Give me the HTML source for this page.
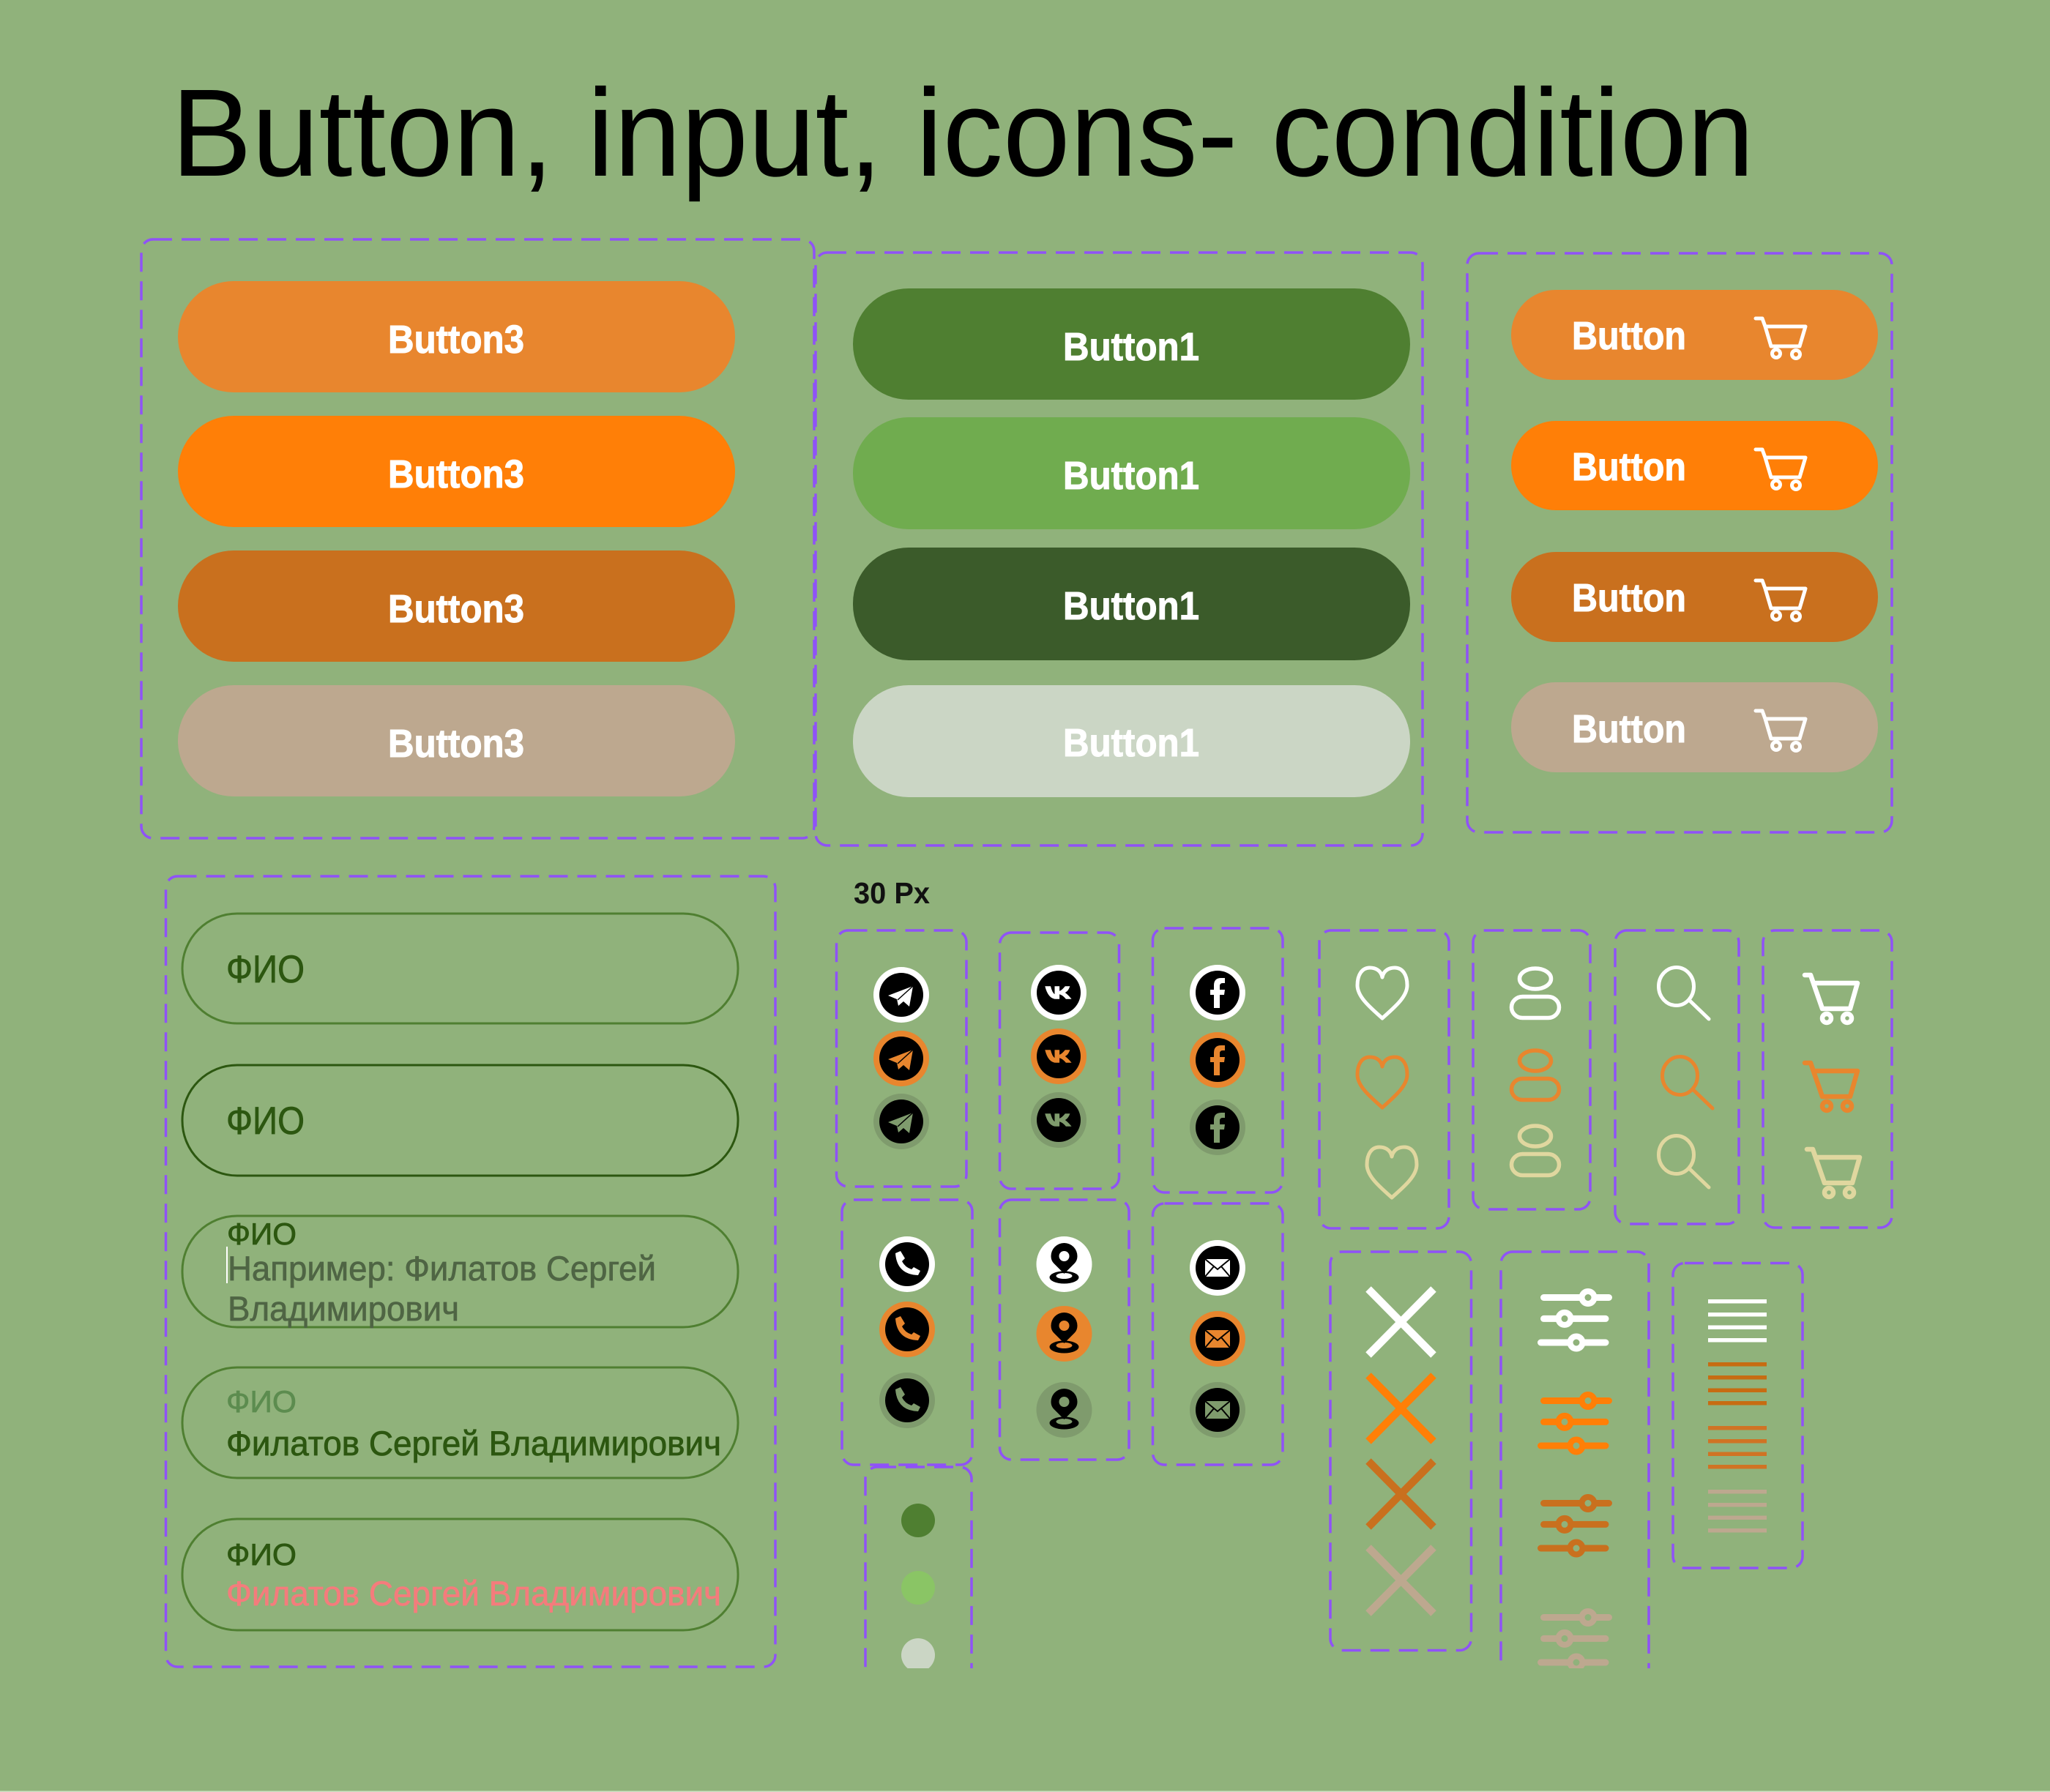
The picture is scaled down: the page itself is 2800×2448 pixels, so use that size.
<!DOCTYPE html>
<html><head><meta charset="utf-8"><style>
html,body{margin:0;padding:0;background:#90b27b}
svg{display:block}
text{font-family:"Liberation Sans",sans-serif}
.b{font-weight:700;font-size:54px;fill:#fff;stroke:#fff;stroke-width:1}
.box{fill:none;stroke:#8f52f7;stroke-width:3.5;stroke-dasharray:26 13}
.p{fill:none;stroke:#4f7f31;stroke-width:3}
.t{font-size:47px;fill:#2c5710;stroke:#2c5710;stroke-width:.8}
.u{font-size:47px;stroke-width:.7}
</style></head><body>
<svg width="2800" height="2448" viewBox="0 0 2800 2448" xmlns="http://www.w3.org/2000/svg">
<defs>
<clipPath id="c"><rect x="0" y="0" width="2800" height="2279"/></clipPath>
<g id="cart" fill="none" stroke="currentColor" stroke-width="5" stroke-linecap="round" stroke-linejoin="round">
<path d="M3,3H12L16,14L24,41H63L71,14H16"/><circle cx="31" cy="51" r="5.500"/><circle cx="58" cy="52" r="5.500"/></g>
<g id="bcart" fill="none" stroke="currentColor" stroke-width="6.500" stroke-linecap="round" stroke-linejoin="round">
<path d="M3,4H11L27,50H65L75,15H17"/><circle cx="33" cy="63" r="6"/><circle cx="61" cy="63" r="6"/></g>
<g id="tg"><circle r="38" fill="currentColor"/><circle r="30" fill="#000"/><path fill="currentColor" d="M16,-12L-18,1L-6,6L-4,15L3,9L11,16Z"/><path d="M16,-12L-5,7" stroke="#000" stroke-width="1.500"/></g>
<g id="vk"><circle r="38" fill="currentColor"/><circle r="30" fill="#000"/><path transform="scale(1.100)" fill="currentColor" d="M-17,-8L-10,-8Q-8,0-5,2L-5,-8L1,-8L1,-2Q4,-3 8,-8L14,-8Q12,-2 8,0Q12,3 16,8L9,8Q5,3 1,2L1,8L-3,8Q-13,8-17,-8Z"/></g>
<g id="fb"><circle r="38" fill="currentColor"/><circle r="30" fill="#000"/><path fill="currentColor" d="M3,21V3H9L10,-4H3V-9Q3,-13 7,-13H10V-20H5Q-5,-20-5,-10V-4H-10V3H-5V21Z"/></g>
<g id="ph"><circle r="38" fill="currentColor"/><circle r="30" fill="#000"/><path fill="currentColor" d="M-16,-15L-9,-18L-3,-8L-7,-4Q-3,4 6,7L9,4L18,9L15,15Q-14,14-16,-15Z"/></g>
<g id="ml"><circle r="38" fill="currentColor"/><circle r="30" fill="#000"/><rect x="-17" y="-12" width="34" height="24" fill="currentColor"/><path d="M-17,-12L0,2L17,-12M-17,12L-5,-2M17,12L5,-2" fill="none" stroke="#000" stroke-width="2"/></g>
<g id="pn"><circle r="38" fill="currentColor"/><ellipse cy="18" rx="20" ry="8.500" fill="#000"/><ellipse cy="16" rx="11" ry="4" fill="currentColor"/><path d="M0,13L-14,-1Q-18,-5-18,-11A18,18 0 0 1 18,-11Q18,-5 14,-1Z" fill="#000"/><circle cy="-11" r="7" fill="currentColor"/></g>
<path id="heart" fill="none" stroke="currentColor" stroke-width="5" stroke-linejoin="round" d="M35,14C33,4 25,1 18,1C7,1 1,11 1,25C1,42 22,58 35,70C48,58 69,42 69,25C69,11 63,1 52,1C45,1 37,4 35,14Z"/>
<g id="person" fill="none" stroke="currentColor" stroke-width="5.500"><ellipse cx="35" cy="16" rx="21.500" ry="14"/><rect x="2.500" y="40.500" width="65" height="29" rx="15"/></g>
<g id="search" fill="none" stroke="currentColor" stroke-width="5" stroke-linecap="round"><ellipse cx="25.500" cy="27.500" rx="24" ry="26"/><path d="M44,47L70,72"/></g>
<g id="x" stroke="currentColor" stroke-width="10.500" fill="none"><path d="M2,2L91,92M91,2L2,92"/></g>
<g id="sl" stroke="currentColor" fill="none"><path d="M2108.500,1772.500H2197.500M2108.500,1801.400H2193M2104.500,1834H2193" stroke-width="9" stroke-linecap="round" transform="translate(-2100,-1760)"/><g fill="#90b27b" stroke-width="8"><circle cx="69" cy="12.500" r="8.500"/><circle cx="37" cy="41.400" r="8.500"/><circle cx="53" cy="74" r="8.500"/></g></g>
<g id="bg" fill="currentColor"><rect width="80" height="5.500"/><rect y="18" width="80" height="5.500"/><rect y="35.500" width="80" height="5.500"/><rect y="53" width="80" height="5.500"/></g>
</defs>
<rect width="2800" height="2448" fill="#90b27b"/>
<rect y="2446.500" width="2800" height="1.500" fill="#cfe0c4"/>
<text x="234" y="240" font-size="170" fill="#000" textLength="2162" lengthAdjust="spacingAndGlyphs">Button, input, icons- condition</text>

<rect class="box" x="193" y="327" width="919" height="818" rx="16"/>
<rect class="box" x="1114" y="345" width="829" height="810" rx="16"/>
<rect class="box" x="2004" y="346" width="580" height="791" rx="16"/>

<rect x="243" y="384" width="761" height="152" rx="76" fill="#e8862e"/>
<rect x="243" y="568" width="761" height="152" rx="76" fill="#ff7f07"/>
<rect x="243" y="752" width="761" height="152" rx="76" fill="#c9701e"/>
<rect x="243" y="936" width="761" height="152" rx="76" fill="#bda88f"/>
<text class="b" x="530" y="482" textLength="186" lengthAdjust="spacingAndGlyphs">Button3</text>
<text class="b" x="530" y="666" textLength="186" lengthAdjust="spacingAndGlyphs">Button3</text>
<text class="b" x="530" y="850" textLength="186" lengthAdjust="spacingAndGlyphs">Button3</text>
<text class="b" x="530" y="1034" textLength="186" lengthAdjust="spacingAndGlyphs">Button3</text>

<rect x="1165" y="394" width="761" height="152" rx="76" fill="#4f7f31"/>
<rect x="1165" y="570" width="761" height="153" rx="76" fill="#70ac4f"/>
<rect x="1165" y="748" width="761" height="154" rx="76" fill="#3b5b2a"/>
<rect x="1165" y="936" width="761" height="153" rx="76" fill="#cbd6c5"/>
<text class="b" x="1452" y="492" textLength="186" lengthAdjust="spacingAndGlyphs">Button1</text>
<text class="b" x="1452" y="668" textLength="186" lengthAdjust="spacingAndGlyphs">Button1</text>
<text class="b" x="1452" y="846" textLength="186" lengthAdjust="spacingAndGlyphs">Button1</text>
<text class="b" x="1452" y="1033" textLength="186" lengthAdjust="spacingAndGlyphs">Button1</text>

<rect x="2064" y="396" width="501" height="123" rx="61" fill="#e8862e"/>
<rect x="2064" y="575" width="501" height="122" rx="61" fill="#ff7f07"/>
<rect x="2064" y="754" width="501" height="123" rx="61" fill="#c9701e"/>
<rect x="2064" y="932" width="501" height="123" rx="61" fill="#bda88f"/>
<text class="b" x="2147" y="477" textLength="156" lengthAdjust="spacingAndGlyphs">Button</text>
<text class="b" x="2147" y="656" textLength="156" lengthAdjust="spacingAndGlyphs">Button</text>
<text class="b" x="2147" y="835" textLength="156" lengthAdjust="spacingAndGlyphs">Button</text>
<text class="b" x="2147" y="1014" textLength="156" lengthAdjust="spacingAndGlyphs">Button</text>
<use href="#cart" x="2395" y="432" color="#fff"/>
<use href="#cart" x="2395" y="611" color="#fff"/>
<use href="#cart" x="2395" y="790" color="#fff"/>
<use href="#cart" x="2395" y="968" color="#fff"/>

<rect class="box" x="226.500" y="1197" width="832.500" height="1080" rx="16"/>
<rect class="p" x="249" y="1248" width="759" height="150" rx="75"/>
<rect x="249" y="1455" width="759" height="151" rx="75" fill="none" stroke="#2c5710" stroke-width="3"/>
<rect class="p" x="249" y="1661" width="759" height="152" rx="75"/>
<rect class="p" x="249" y="1868" width="759" height="151" rx="75"/>
<rect class="p" x="249" y="2075" width="759" height="152" rx="75"/>
<text class="t" x="309" y="1342" style="font-size:53px" textLength="107" lengthAdjust="spacingAndGlyphs">ФИО</text>
<text class="t" x="309" y="1549" style="font-size:53px" textLength="107" lengthAdjust="spacingAndGlyphs">ФИО</text>
<text class="t" x="310" y="1700" style="font-size:42px" textLength="95" lengthAdjust="spacingAndGlyphs">ФИО</text>
<text class="u" x="311" y="1749" fill="#4f6544" stroke="#4f6544" textLength="585" lengthAdjust="spacingAndGlyphs">Например: Филатов Сергей</text>
<text class="u" x="311" y="1804" fill="#4f6544" stroke="#4f6544" textLength="316" lengthAdjust="spacingAndGlyphs">Владимирович</text>
<rect x="309" y="1703" width="2" height="50" fill="#fff"/>
<text x="309" y="1929" style="font-size:42px" fill="#5c8c4f" stroke="#5c8c4f" stroke-width=".7" textLength="96" lengthAdjust="spacingAndGlyphs">ФИО</text>
<text class="t" x="309" y="1988" textLength="676" lengthAdjust="spacingAndGlyphs">Филатов Сергей Владимирович</text>
<text class="t" x="309" y="2138" style="font-size:42px" textLength="96" lengthAdjust="spacingAndGlyphs">ФИО</text>
<text class="u" x="309" y="2193" fill="#f47c7c" stroke="#f47c7c" textLength="676" lengthAdjust="spacingAndGlyphs">Филатов Сергей Владимирович</text>

<text x="1166" y="1234" font-size="41" font-weight="700" fill="#111" textLength="104" lengthAdjust="spacingAndGlyphs">30 Px</text>

<rect class="box" x="1142.500" y="1271" width="177.500" height="350" rx="16"/>
<rect class="box" x="1365.500" y="1274" width="163" height="350" rx="16"/>
<rect class="box" x="1574.500" y="1268" width="177.500" height="361" rx="16"/>
<rect class="box" x="1150" y="1639" width="178" height="362" rx="16"/>
<rect class="box" x="1365.500" y="1639" width="176.500" height="355" rx="16"/>
<rect class="box" x="1574.500" y="1644" width="177.500" height="357" rx="16"/>

<use href="#tg" x="1231" y="1359" color="#fff"/><use href="#tg" x="1231" y="1446" color="#e8862e"/><use href="#tg" x="1231" y="1532" color="#7f9b6d"/>
<use href="#vk" x="1446" y="1356" color="#fff"/><use href="#vk" x="1446" y="1443" color="#e8862e"/><use href="#vk" x="1446" y="1530" color="#7f9b6d"/>
<use href="#fb" x="1663" y="1356" color="#fff"/><use href="#fb" x="1663" y="1448" color="#e8862e"/><use href="#fb" x="1663" y="1540" color="#7f9b6d"/>
<use href="#ph" x="1239" y="1727" color="#fff"/><use href="#ph" x="1239" y="1816" color="#e8862e"/><use href="#ph" x="1239" y="1913" color="#7f9b6d"/>
<use href="#pn" x="1453.500" y="1727" color="#fff"/><use href="#pn" x="1453.500" y="1822" color="#e8862e"/><use href="#pn" x="1453.500" y="1926" color="#7f9b6d"/>
<use href="#ml" x="1663" y="1732" color="#fff"/><use href="#ml" x="1663" y="1829" color="#e8862e"/><use href="#ml" x="1663" y="1926" color="#7f9b6d"/>

<rect class="box" x="1802" y="1271" width="177" height="407" rx="16"/>
<rect class="box" x="2012" y="1271" width="160" height="381" rx="16"/>
<rect class="box" x="2206" y="1271" width="169" height="401" rx="16"/>
<rect class="box" x="2408" y="1271" width="176" height="406" rx="16"/>
<use href="#heart" x="1853" y="1321" color="#fff"/><use href="#heart" x="1853" y="1443" color="#e8862e"/><use href="#heart" x="1866" y="1566" color="#e0d79f"/>
<use href="#person" x="2062" y="1321" color="#fff"/><use href="#person" x="2062" y="1433" color="#e8862e"/><use href="#person" x="2062" y="1536" color="#e0d79f"/>
<use href="#search" x="2264" y="1320" color="#fff"/><use href="#search" x="2269" y="1442" color="#e8862e"/><use href="#search" x="2264" y="1550" color="#e0d79f"/>
<use href="#bcart" x="2462" y="1328" color="#fff"/>
<use href="#bcart" x="2462" y="1448" color="#e8862e"/>
<use href="#bcart" x="2465" y="1566" color="#e0d79f"/>

<rect class="box" x="1817" y="1710" width="192.500" height="544.500" rx="16"/>
<use href="#x" x="1867" y="1759" color="#fff"/><use href="#x" x="1867" y="1877" color="#ff7f07"/><use href="#x" x="1867" y="1994" color="#c9701e"/><use href="#x" x="1867" y="2112" color="#bda88f"/>

<g clip-path="url(#c)">
<rect class="box" x="2050" y="1710" width="202" height="700" rx="16"/>
<use href="#sl" x="2100" y="1760" color="#fff"/><use href="#sl" x="2100" y="1901" color="#ff7f07"/><use href="#sl" x="2100" y="2041" color="#c9701e"/><use href="#sl" x="2100" y="2197" color="#bda88f"/>
<rect class="box" x="1182" y="2004" width="145" height="400" rx="16"/>
<circle cx="1254" cy="2077" r="23" fill="#4f7f31"/><circle cx="1254" cy="2169" r="23" fill="#8ac565"/><circle cx="1254" cy="2261" r="23" fill="#cbd6c5"/>
</g>

<rect class="box" x="2285" y="1725.500" width="177" height="416.500" rx="16"/>
<use href="#bg" x="2333" y="1775" color="#fff"/><use href="#bg" x="2333" y="1861" color="#c76c12"/><use href="#bg" x="2333" y="1948" color="#d07324"/><use href="#bg" x="2333" y="2035" color="#bda88f"/>
</svg>
</body></html>
